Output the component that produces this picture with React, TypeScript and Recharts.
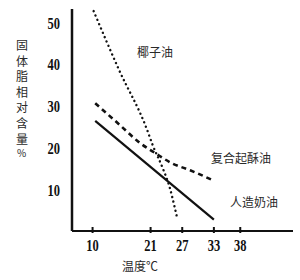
import React from 'react';
import { LineChart, Line, XAxis, YAxis } from 'recharts';

// temperature (°C) vs relative solid fat content (%)
const coconutTemp = [10.2, 15, 20.2, 21.4, 23.3, 24.6, 25.6, 26];
const coconutFat = [52.5, 38.5, 24.6, 20.5, 15, 10.5, 5.5, 3.3];

const shorteningTemp = [10.5, 15, 19, 22, 25, 28.5, 33];
const shorteningFat = [30.5, 25.5, 21, 18.5, 16.2, 14.5, 12];

const margarineTemp = [10.5, 33];
const margarineFat = [26.3, 2.7];

const xTicks = [10, 21, 27, 33, 38];
const yTicks = [10, 20, 30, 40, 50];

const toPoints = (xs: number[], ys: number[]) => xs.map((t, i) => ({ t, v: ys[i] }));

const coconutData = toPoints(coconutTemp, coconutFat);
const shorteningData = toPoints(shorteningTemp, shorteningFat);
const margarineData = toPoints(margarineTemp, margarineFat);

const numFont = { fontFamily: '"Liberation Serif", serif', fontWeight: 700, fontSize: 16, fill: '#111' };
const cjk: React.CSSProperties = {
  position: 'absolute',
  fontFamily: '"Noto Sans CJK SC", sans-serif',
  fontSize: 12,
  color: '#2a2a2a',
  lineHeight: 1,
  whiteSpace: 'nowrap',
};

const XTick = (props: any) => {
  const { x, y, payload } = props;
  const axisY = y - 6;
  return (
    <g>
      <line x1={x} x2={x} y1={axisY} y2={axisY - 6} stroke="#111" strokeWidth={2} />
      <text transform={`translate(${x},${axisY + 18}) scale(0.78,1)`} textAnchor="middle" {...numFont}>
        {payload.value}
      </text>
    </g>
  );
};

const YTick = (props: any) => {
  const { x, y, payload } = props;
  return (
    <text transform={`translate(${x},${y + 7}) scale(0.78,1)`} textAnchor="end" {...numFont}>
      {payload.value}
    </text>
  );
};

export default function App() {
  const yLabel = ['固', '体', '脂', '相', '对', '含', '量', '%'];
  return (
    <div style={{ position: 'fixed', left: 0, top: 0, width: 300, height: 280, background: '#fff' }}>
      <LineChart width={300} height={280} margin={{ top: 9, right: 7, bottom: 0, left: 0 }}>
        <XAxis
          type="number"
          dataKey="t"
          domain={[6.1, 48]}
          ticks={xTicks}
          allowDataOverflow
          height={49}
          tickSize={6}
          tickLine={false}
          axisLine={{ stroke: '#111', strokeWidth: 2 }}
          tick={<XTick />}
        />
        <YAxis
          type="number"
          dataKey="v"
          domain={[0, 53]}
          ticks={yTicks}
          allowDataOverflow
          width={72}
          tickSize={10}
          tickLine={false}
          axisLine={{ stroke: '#111', strokeWidth: 2.5 }}
          tick={<YTick />}
        />
        <Line
          data={coconutData}
          dataKey="v"
          type="monotone"
          stroke="#111"
          strokeWidth={2.4}
          strokeDasharray="0.1 4.6"
          strokeLinecap="round"
          dot={false}
          isAnimationActive={false}
        />
        <Line
          data={shorteningData}
          dataKey="v"
          type="monotone"
          stroke="#111"
          strokeWidth={2.6}
          strokeDasharray="5 4"
          dot={false}
          isAnimationActive={false}
        />
        <Line
          data={margarineData}
          dataKey="v"
          type="linear"
          stroke="#111"
          strokeWidth={2.2}
          dot={false}
          isAnimationActive={false}
        />
      </LineChart>
      <div style={{ ...cjk, left: 137, top: 46 }}>椰子油</div>
      <div style={{ ...cjk, left: 211, top: 152 }}>复合起酥油</div>
      <div style={{ ...cjk, left: 230, top: 196 }}>人造奶油</div>
      <div style={{ ...cjk, left: 122, top: 260 }}>温度℃</div>
      {yLabel.map((c, i) => (
        <div
          key={c}
          style={{ ...cjk, left: c === '%' ? 17 : 16, top: 39 + i * 15.6, fontSize: c === '%' ? 10 : 12 }}
        >
          {c}
        </div>
      ))}
    </div>
  );
}
